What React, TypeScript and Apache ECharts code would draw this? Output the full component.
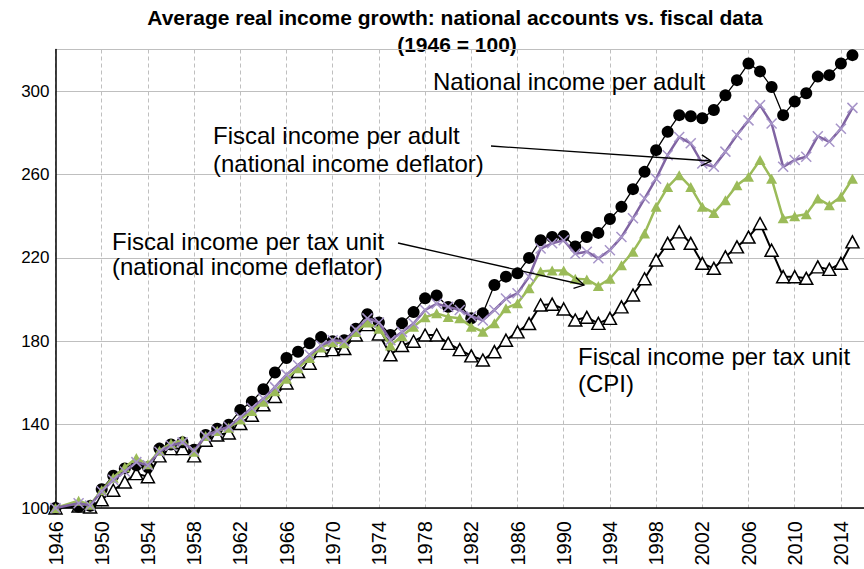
import React, { useEffect, useRef } from "react";
import * as echarts from "echarts";

const years: string[] = [];
for (let y = 1946; y <= 2015; y++) years.push(String(y));

const yTicks = [100, 140, 180, 220, 260, 300];

// National income per adult (black circles)
const nationalIncome = [
  100, null, 100.6, 101, 109, 115.5, 119, 120.5, 119.5, 128.5,
  130.5, 131.5, 128, 135, 138, 140, 147, 151, 157, 165,
  172, 175, 179, 182, 180, 180.5, 186, 193, 189, 183,
  188.6, 194, 200.6, 202, 196.5, 197.4, 191, 193.4, 207, 211,
  212.6, 220, 228.5, 230, 230.5, 225.5, 230, 232, 238.7, 244.5,
  253, 261.3, 271.7, 280.5, 288.5, 288, 287, 291, 298, 305.3,
  313.3, 309.5, 302, 288.5, 295, 299, 307, 307.7, 313.3, 317.3,
];

// Fiscal income per adult (national income deflator) (purple, x markers)
const fiscalPerAdult = [
  100, null, 102.3, 101.2, 108, 113.5, 117.5, 122, 120.5, 127,
  130, 131.5, 127.5, 134.5, 137, 139, 143.5, 148, 152.5, 158,
  164, 168.5, 173.5, 178, 180.5, 180, 185.5, 191, 189, 180.5,
  184.5, 188.5, 195, 198, 196.5, 195, 192, 190, 195, 200.5,
  203, 211, 224.5, 227, 228.5, 222, 223, 219.8, 223.7, 230,
  239, 248.5, 258, 269.3, 278, 275, 265.3, 263.7, 271, 279,
  286, 293.3, 284.5, 263.7, 267, 268.5, 278.4, 275.7, 282, 292,
];

// Fiscal income per tax unit (national income deflator) (green triangles)
const fiscalPerTaxUnit = [
  100, null, 103.5, 101.5, 108.5, 114.5, 119.5, 124, 121, 127.5,
  131, 132.5, 127, 134.5, 137, 138.5, 142.5, 146.5, 151, 156,
  162, 167, 172, 177, 179.5, 179, 184.5, 189, 186, 178,
  182.5, 187, 191.5, 193.4, 191.7, 191, 187, 184.6, 188.6, 195.8,
  198.2, 205.4, 213.5, 214, 214, 210, 209.7, 206.5, 210, 216.5,
  223, 231.7, 244.5, 254, 259.7, 254, 244.5, 241.6, 247.7, 254.9,
  259, 267, 258, 239, 240, 241, 248.5, 245.3, 249.3, 258,
];

// Fiscal income per tax unit (CPI) (white triangles)
const fiscalPerTaxUnitCPI = [
  100, null, 101, 100.5, 104, 108.5, 112.5, 116.5, 115, 125,
  128.5, 128.5, 125, 132.5, 135, 136, 140.5, 144.5, 149.5, 153.5,
  160, 165.5, 169.5, 175.5, 176, 176.5, 183, 188, 183.5, 173.5,
  178, 180, 183, 183, 179, 176, 173, 171, 175, 180.5,
  184.5, 188.5, 197.4, 197.8, 195.5, 190.2, 191.5, 188.6, 191, 196.5,
  202.2, 210, 219, 227, 232.5, 227, 217.4, 215, 220.5, 225.3,
  230, 236.5, 223.7, 211, 211, 210.2, 215.7, 214.5, 217.4, 227.7,
];

const FONT = "'Liberation Sans', Arial, sans-serif";

function arrow(x1: number, y1: number, x2: number, y2: number) {
  const ang = Math.atan2(y2 - y1, x2 - x1);
  const L = 11;
  const a = Math.PI / 6;
  const p1 = [x2 - L * Math.cos(ang - a), y2 - L * Math.sin(ang - a)];
  const p2 = [x2 - L * Math.cos(ang + a), y2 - L * Math.sin(ang + a)];
  return [
    { type: "line", shape: { x1, y1, x2, y2 }, style: { stroke: "#000", lineWidth: 1.3 }, z: 100 },
    { type: "polyline", shape: { points: [p1, [x2, y2], p2] }, style: { stroke: "#000", lineWidth: 1.3, fill: null }, z: 100 },
  ];
}

function label(text: string, x: number, y: number) {
  return {
    type: "text",
    x,
    y,
    z: 100,
    style: { text, font: `24px ${FONT}`, fill: "#000", textAlign: "left", textVerticalAlign: "middle" },
  };
}

export default function App() {
  const ref = useRef<HTMLDivElement>(null);
  useEffect(() => {
    if (!ref.current) return;
    const chart = echarts.init(ref.current, null, { renderer: "svg" });
    const xMark = "path://M0,0L10,10M10,0L0,10";
    chart.setOption({
      animation: false,
      backgroundColor: "#fff",
      grid: { left: 55.5, right: 0, top: 49.5, bottom: 61, containLabel: false },
      xAxis: {
        type: "category",
        data: years,
        boundaryGap: false,
        max: 69.5,
        axisLine: { lineStyle: { color: "#000", width: 1.5 } },
        axisTick: { show: false },
        axisLabel: { interval: 3, rotate: 90, fontSize: 20, color: "#000", fontFamily: FONT, margin: 13 },
        splitLine: { show: true, interval: 3, lineStyle: { color: "#BFBFBF", type: [4, 3], width: 1 } },
      },
      yAxis: {
        type: "value",
        min: 100,
        max: 320,
        interval: 40,
        axisLine: { show: true, lineStyle: { color: "#000", width: 1.5 } },
        axisTick: { show: false },
        axisLabel: {
          fontSize: 17,
          color: "#000",
          fontFamily: FONT,
          margin: 6,
          formatter: (v: number) => (yTicks.includes(v) ? String(v) : ""),
        },
        splitLine: { show: true, lineStyle: { color: "#BFBFBF", width: 1.2 } },
      },
      series: [
        {
          name: "Fiscal income per tax unit (CPI)",
          type: "line",
          data: fiscalPerTaxUnitCPI,
          connectNulls: true,
          symbol: "triangle",
          symbolSize: [13, 12],
          showAllSymbol: true,
          lineStyle: { color: "#000", width: 2 },
          itemStyle: { color: "#fff", borderColor: "#000", borderWidth: 1.5 },
          z: 2,
        },
        {
          name: "National income per adult",
          type: "line",
          data: nationalIncome,
          connectNulls: true,
          symbol: "circle",
          symbolSize: 12,
          showAllSymbol: true,
          lineStyle: { color: "#000", width: 1.3 },
          itemStyle: { color: "#000", borderColor: "#000", borderWidth: 0 },
          z: 3,
        },
        {
          name: "Fiscal income per tax unit (national income deflator)",
          type: "line",
          data: fiscalPerTaxUnit,
          connectNulls: true,
          symbol: "triangle",
          symbolSize: [11, 10],
          showAllSymbol: true,
          lineStyle: { color: "#9BBB59", width: 2.5 },
          itemStyle: { color: "#9BBB59", borderColor: "#9BBB59", borderWidth: 0 },
          z: 4,
        },
        {
          name: "Fiscal income per adult (national income deflator)",
          type: "line",
          data: fiscalPerAdult,
          connectNulls: true,
          symbol: xMark,
          symbolSize: 10,
          showAllSymbol: true,
          lineStyle: { color: "#8064A2", width: 2.5 },
          itemStyle: { color: "none", borderColor: "#A795C9", borderWidth: 1.5 },
          z: 5,
        },
      ],
      graphic: [
        {
          type: "text",
          x: 455,
          y: 17,
          style: {
            text: "Average real income growth: national accounts vs. fiscal data",
            font: `bold 21px ${FONT}`,
            fill: "#000",
            textAlign: "center",
            textVerticalAlign: "middle",
          },
        },
        {
          type: "text",
          x: 457,
          y: 44,
          style: { text: "(1946 = 100)", font: `bold 21px ${FONT}`, fill: "#000", textAlign: "center", textVerticalAlign: "middle" },
        },
        label("National income per adult", 433, 81),
        label("Fiscal income per adult", 213, 135),
        label("(national income deflator)", 213, 163),
        label("Fiscal income per tax unit", 112, 241),
        label("(national income deflator)", 112, 266),
        label("Fiscal income per tax unit", 578, 356),
        label("(CPI)", 578, 383),
        ...arrow(491, 146, 711, 161),
        ...arrow(398, 243, 584, 285),
      ],
    });
    return () => chart.dispose();
  }, []);
  return <div ref={ref} style={{ position: "fixed", left: 0, top: 0, width: 864, height: 569, background: "#fff" }} />;
}
